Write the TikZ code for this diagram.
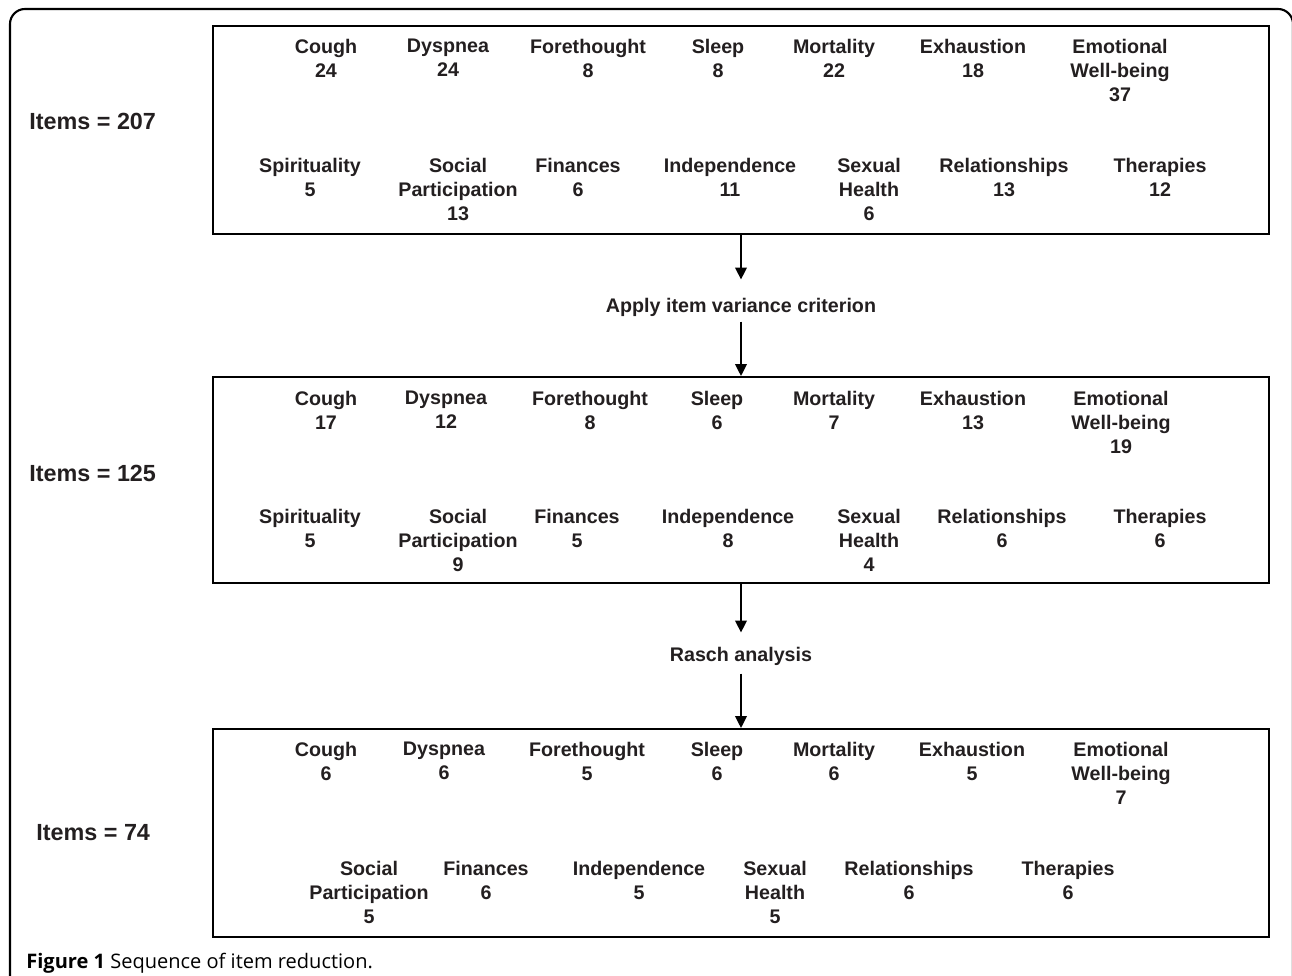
\documentclass[tikz,border=0pt]{standalone}
\usepackage{fontspec}
\setmainfont{Liberation Sans}
\newfontfamily\capfont{Open Sans}
\usetikzlibrary{arrows.meta,fit}
\definecolor{ink}{RGB}{35,31,32}
\begin{document}
\begin{tikzpicture}[x=0.02cm,y=-0.02cm,
  entry/.style={anchor=north,inner sep=0,align=center,text=ink,font=\bfseries\fontsize{11.2}{13.6}\selectfont,execute at begin node=\strut},
  total/.style={anchor=base west,inner sep=0,text=ink,font=\bfseries\fontsize{13.3}{16}\selectfont},
  stage/.style={inner sep=0,text=ink,font=\bfseries\fontsize{11.2}{13.6}\selectfont},
  panel/.style={draw,line width=1.1pt,inner sep=0},
  flow/.style={line width=1.1pt,-{Triangle[length=6.8pt,width=6.6pt]}}]
\useasboundingbox(0,0)rectangle(1292,976);
\draw[line width=1.2pt,rounded corners=0.3cm](10,976)--(10,9)--(1293,9)--(1293,976);
\node[panel,fit={(213,26)(1269,234)}](b1){};
\node[panel,fit={(213,377)(1269,583)}](b2){};
\node[panel,fit={(213,729)(1269,937)}](b3){};
\node[total](n1)at(29,130){Items = 207};
\node[total](n2)at(29,481){Items = 125};
\node[total](n3)at(36,840){Items = 74};
\foreach[count=\i]\x/\t in {326/{Cough\\24},448/{Dyspnea\\24},588/{Forethought\\8},718/{Sleep\\8},834/{Mortality\\22},973/{Exhaustion\\18},1120/{Emotional\\Well-being\\37}}
  \node[entry](a1-\i)at(\x,39){\t};
\foreach[count=\i]\x/\t in {310/{Spirituality\\5},458/{Social\\Participation\\13},578/{Finances\\6},730/{Independence\\11},869/{Sexual\\Health\\6},1004/{Relationships\\13},1160/{Therapies\\12}}
  \node[entry](a2-\i)at(\x,158){\t};
\foreach[count=\i]\x/\t in {326/{Cough\\17},446/{Dyspnea\\12},590/{Forethought\\8},717/{Sleep\\6},834/{Mortality\\7},973/{Exhaustion\\13},1121/{Emotional\\Well-being\\19}}
  \node[entry](b1-\i)at(\x,391){\t};
\foreach[count=\i]\x/\t in {310/{Spirituality\\5},458/{Social\\Participation\\9},577/{Finances\\5},728/{Independence\\8},869/{Sexual\\Health\\4},1002/{Relationships\\6},1160/{Therapies\\6}}
  \node[entry](b2-\i)at(\x,509){\t};
\foreach[count=\i]\x/\t in {326/{Cough\\6},444/{Dyspnea\\6},587/{Forethought\\5},717/{Sleep\\6},834/{Mortality\\6},972/{Exhaustion\\5},1121/{Emotional\\Well-being\\7}}
  \node[entry](c1-\i)at(\x,742){\t};
\foreach[count=\i]\x/\t in {369/{Social\\Participation\\5},486/{Finances\\6},639/{Independence\\5},775/{Sexual\\Health\\5},909/{Relationships\\6},1068/{Therapies\\6}}
  \node[entry](c2-\i)at(\x,861){\t};
\node[stage](crit)at(741,307){Apply item variance criterion};
\node[stage](rasch)at(741,656){Rasch analysis};
\draw[flow,shorten >=0.36cm](b1.south)--(crit.north);
\draw[flow,shorten <=0.1cm](crit.south)--(b2.north);
\draw[flow,shorten >=0.28cm](b2.south)--(rasch.north);
\draw[flow,shorten <=0.16cm](rasch.south)--(b3.north);
\node[anchor=base west,inner sep=0,font=\capfont\fontsize{11.4}{13}\selectfont](cap)at(26,968){\textbf{Figure 1} Sequence of item reduction.};
\end{tikzpicture}
\end{document}
